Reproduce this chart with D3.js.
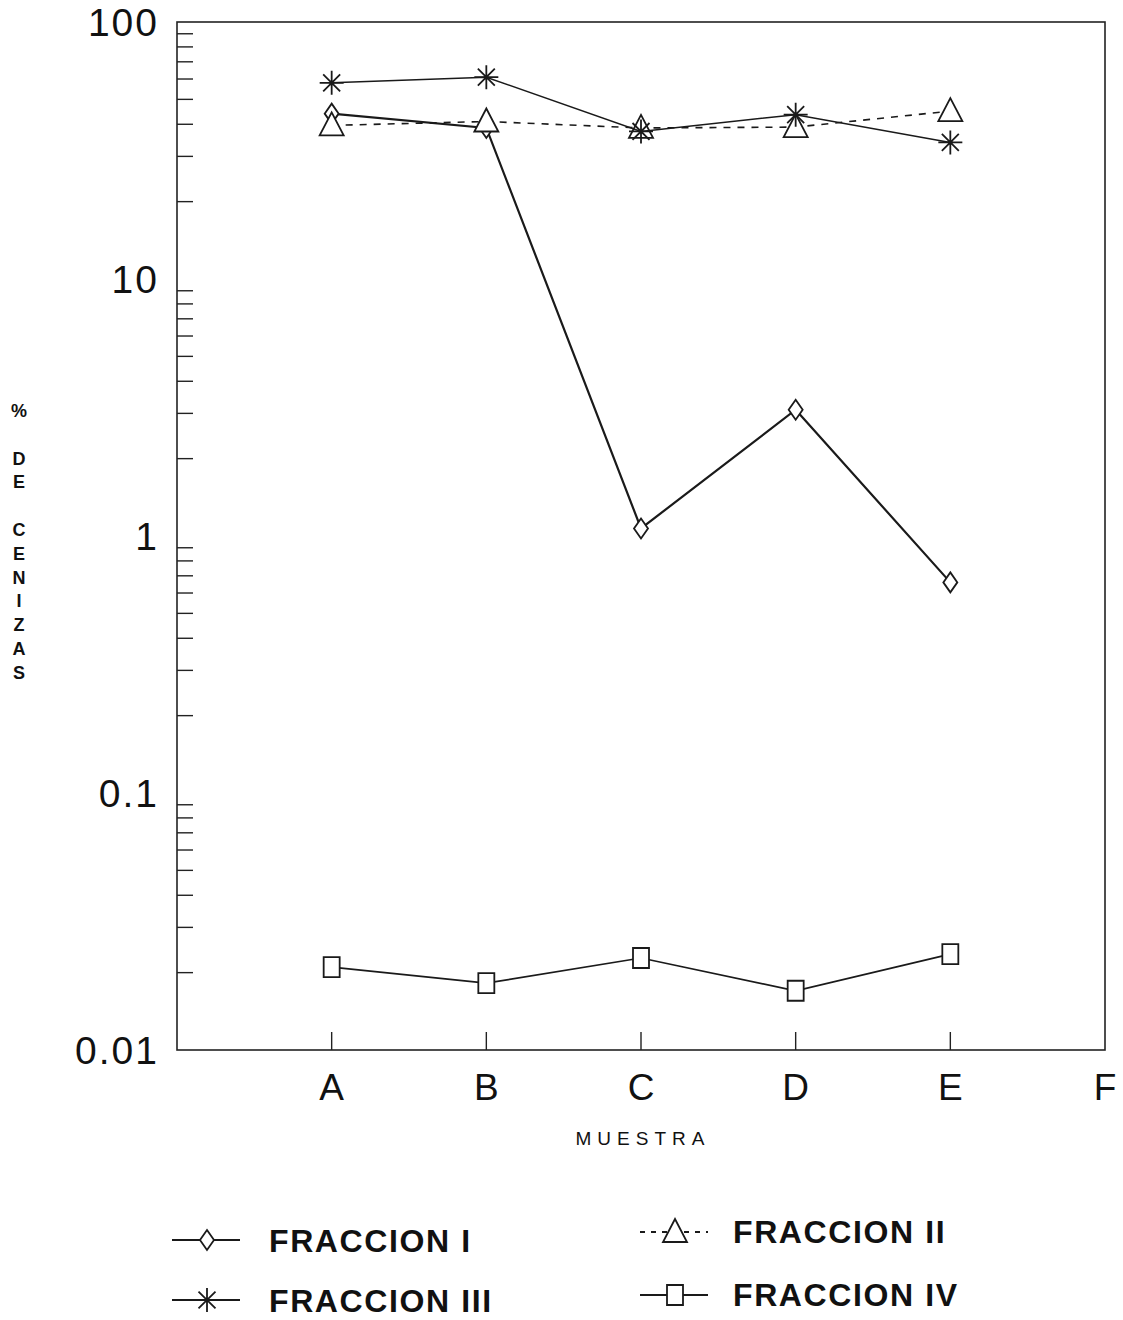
<!DOCTYPE html>
<html lang="es">
<head>
<meta charset="UTF-8">
<title>% de cenizas por muestra</title>
<script src="https://d3js.org/d3.v7.min.js"></script>
<style>
  body { margin: 0; background: #fff; }
  svg text { font-family: "Liberation Sans", Arial, sans-serif; fill: #111; }
  .tick-label { font-size: 39px; letter-spacing: 2px; }
  .cat-label { font-size: 37px; }
  .axis-title { font-size: 19px; letter-spacing: 6px; }
  .y-title { font-size: 18px; font-weight: bold; }
  .legend-text { font-size: 32px; letter-spacing: 1.6px; font-weight: bold; }
</style>
</head>
<body>
<svg id="chart"></svg>
<script>
// data
var muestras = ["A", "B", "C", "D", "E", "F"];
var fraccion1 = [44, 38.7, 1.07, 3.1, 0.66];
var fraccion2 = [39.6, 41, 38.7, 39, 45];
var fraccion3 = [58, 61, 37.5, 43.6, 34];
var fraccion4 = [0.021, 0.0182, 0.0228, 0.0170, 0.0236];
var yTicks = [0.01, 0.1, 1, 10, 100];
var yTickLabels = ["0.01", "0.1", "1", "10", "100"];
var yTitle = ["%", "", "D", "E", "", "C", "E", "N", "I", "Z", "A", "S"];
var legendNames = ["FRACCION I", "FRACCION II", "FRACCION III", "FRACCION IV"];

var W = 1123, H = 1320;
var svg = d3.select("#chart").attr("width", W).attr("height", H);

var plotLeft = 177, plotRight = 1105, plotTop = 22, plotBottom = 1050;

var x = d3.scaleLinear().domain([0, 6]).range([plotLeft, plotRight]);
var y = d3.scaleLog().domain([0.01, 100]).range([plotBottom, plotTop]);

// frame
svg.append("rect")
  .attr("x", plotLeft).attr("y", plotTop)
  .attr("width", plotRight - plotLeft).attr("height", plotBottom - plotTop)
  .attr("fill", "none").attr("stroke", "#222").attr("stroke-width", 1.6);

// y ticks: minor 2..9 in each decade, pointing inward
var minor = [];
for (var e = -2; e < 2; e++) {
  for (var m = 2; m <= 9; m++) minor.push(m * Math.pow(10, e));
}
svg.append("g").selectAll("line")
  .data(minor)
  .enter().append("line")
  .attr("x1", plotLeft).attr("x2", plotLeft + 16)
  .attr("y1", function (d) { return y(d); })
  .attr("y2", function (d) { return y(d); })
  .attr("stroke", "#222").attr("stroke-width", 1.4);

svg.append("g").selectAll("text")
  .data(yTicks)
  .enter().append("text")
  .attr("class", "tick-label")
  .attr("x", plotLeft - 18)
  .attr("y", function (d) { return y(d); })
  .attr("dy", "0.36em")
  .attr("text-anchor", "end")
  .text(function (d, i) { return yTickLabels[i]; });

// x ticks (A..E) pointing up from the bottom
svg.append("g").selectAll("line")
  .data(muestras.slice(0, 5))
  .enter().append("line")
  .attr("x1", function (d, i) { return x(i + 1); })
  .attr("x2", function (d, i) { return x(i + 1); })
  .attr("y1", plotBottom).attr("y2", plotBottom - 18)
  .attr("stroke", "#222").attr("stroke-width", 1.4);

svg.append("g").selectAll("text")
  .data(muestras)
  .enter().append("text")
  .attr("class", "cat-label")
  .attr("x", function (d, i) { return x(i + 1); })
  .attr("y", plotBottom + 50)
  .attr("text-anchor", "middle")
  .text(function (d) { return d; });

svg.append("text")
  .attr("class", "axis-title")
  .attr("x", (plotLeft + plotRight) / 2 + 2)
  .attr("y", 1145)
  .attr("text-anchor", "middle")
  .text("MUESTRA");

svg.append("g").selectAll("text")
  .data(yTitle)
  .enter().append("text")
  .attr("class", "y-title")
  .attr("x", 19)
  .attr("y", function (d, i) { return 417 + i * 23.8; })
  .attr("text-anchor", "middle")
  .text(function (d) { return d; });

// marker shapes
function diamondPath(cx, cy) {
  return "M" + cx + "," + (cy - 10) + "L" + (cx + 7) + "," + cy + "L" + cx + "," + (cy + 10) + "L" + (cx - 7) + "," + cy + "Z";
}
function trianglePath(cx, cy) {
  return "M" + cx + "," + (cy - 13) + "L" + (cx + 12) + "," + (cy + 10) + "L" + (cx - 12) + "," + (cy + 10) + "Z";
}
function starPath(cx, cy) {
  var r = 12, p = "";
  for (var k = 0; k < 4; k++) {
    var a = k * Math.PI / 4;
    var dx = r * Math.sin(a), dy = r * Math.cos(a);
    p += "M" + (cx - dx) + "," + (cy - dy) + "L" + (cx + dx) + "," + (cy + dy);
  }
  return p;
}
function squarePath(cx, cy) {
  return "M" + (cx - 8) + "," + (cy - 10) + "h16v20h-16Z";
}

var series = [
  { values: fraccion1, marker: diamondPath, dash: null, width: 2.2 },
  { values: fraccion2, marker: trianglePath, dash: "7,7", width: 1.6 },
  { values: fraccion3, marker: starPath, dash: null, width: 1.5 },
  { values: fraccion4, marker: squarePath, dash: null, width: 1.7 }
];

var line = d3.line()
  .x(function (d, i) { return x(i + 1); })
  .y(function (d) { return y(d); });

series.forEach(function (s) {
  svg.append("path")
    .attr("d", line(s.values))
    .attr("fill", "none")
    .attr("stroke", "#1a1a1a")
    .attr("stroke-width", s.width)
    .attr("stroke-dasharray", s.dash);

  svg.append("g").selectAll("path")
    .data(s.values)
    .enter().append("path")
    .attr("d", function (d, i) { return s.marker(x(i + 1), y(d)); })
    .attr("fill", s.marker === starPath ? "none" : "#fff")
    .attr("stroke", "#1a1a1a")
    .attr("stroke-width", 1.8);
});

// legend
var legendPos = [
  { lx: 172, ly: 1240, tx: 269, ty: 1252 },
  { lx: 640, ly: 1232, tx: 733, ty: 1243 },
  { lx: 172, ly: 1300, tx: 269, ty: 1312 },
  { lx: 640, ly: 1295, tx: 733, ty: 1306 }
];
series.forEach(function (s, k) {
  var p = legendPos[k];
  var g = svg.append("g");
  g.append("line")
    .attr("x1", p.lx).attr("x2", p.lx + 68)
    .attr("y1", p.ly).attr("y2", p.ly)
    .attr("stroke", "#1a1a1a")
    .attr("stroke-width", 2)
    .attr("stroke-dasharray", s.dash ? "5,6" : null);
  g.append("path")
    .attr("d", s.marker(p.lx + 35, p.ly))
    .attr("fill", s.marker === starPath ? "none" : "#fff")
    .attr("stroke", "#1a1a1a")
    .attr("stroke-width", 1.8);
  g.append("text")
    .attr("class", "legend-text")
    .attr("x", p.tx)
    .attr("y", p.ty)
    .text(legendNames[k]);
});
</script>
</body>
</html>
